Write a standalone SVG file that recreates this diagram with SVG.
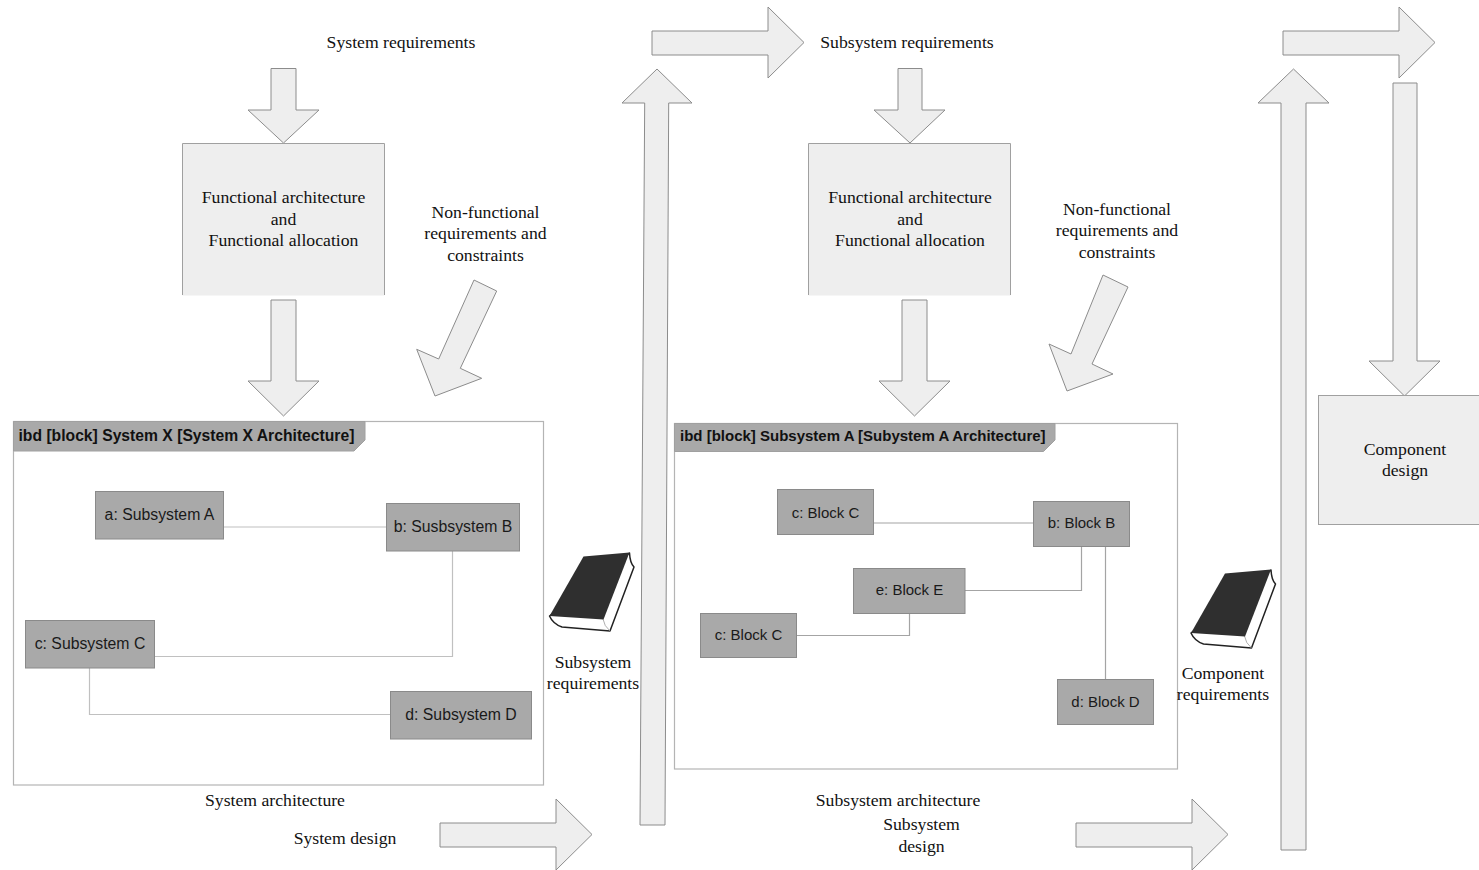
<svg xmlns="http://www.w3.org/2000/svg" width="1479" height="870" viewBox="0 0 1479 870">
<style>
.ar{fill:#eeeeee;stroke:#8c8c8c;stroke-width:1}
.fill{fill:#eeeeee}
.box{fill:#eeeeee;stroke:#a0a0a0;stroke-width:1}
.open{fill:none;stroke:#a0a0a0;stroke-width:1}
.frame{fill:#ffffff;stroke:#b4b4b4;stroke-width:1.2}
.tab{fill:#a9a9a9;stroke:#a0a0a0;stroke-width:1}
.blk{fill:#a9a9a9;stroke:#8a8a8a;stroke-width:1}
.ln{fill:none;stroke:#c0c0c0;stroke-width:1.2}
.ln2{fill:none;stroke:#a4a4a4;stroke-width:1.2}
.s{font-family:"Liberation Serif",serif;font-size:17.7px;fill:#111;text-anchor:middle}
.h{font-family:"Liberation Sans",sans-serif;font-size:15px;fill:#1a1a1a;text-anchor:middle}
.hl{font-family:"Liberation Sans",sans-serif;font-size:15.8px;fill:#1a1a1a;text-anchor:middle}
.t{font-family:"Liberation Sans",sans-serif;font-size:15px;font-weight:bold;fill:#111}
.tl{font-family:"Liberation Sans",sans-serif;font-size:15.7px;font-weight:bold;fill:#111}
.cover{fill:#2f2f2f}
.pages{fill:#ffffff;stroke:#222;stroke-width:1.5;stroke-linejoin:round}
.edge{fill:none;stroke:#999;stroke-width:.8}
</style>
<defs>
<g id="book">
<path class="pages" d="M629.5 553 Q630 563 634 567 L610 631 L562 627 Q553 624 549.500 616 Z"/>
<path class="edge" d="M603 619 Q604 626 610 631"/>
<polygon class="cover" points="583.500,556.500 629.500,552.500 603.500,619.500 549.500,616"/>
</g>
</defs>
<g id="frame-x">
<rect class="frame" x="13.500" y="421.500" width="530" height="363.500"/>
<polygon class="tab" points="13.500,421.500 365,421.500 365,440 354,451 13.500,451"/>
<text class="tl" x="18.500" y="441">ibd [block] System X [System X Architecture]</text>
</g>
<g id="frame-a">
<rect class="frame" x="674.500" y="423.500" width="503" height="345.500"/>
<polygon class="tab" points="674.500,423.500 1055,423.500 1055,440 1043.500,451.500 674.500,451.500"/>
<text class="t" x="680" y="441">ibd [block] Subsystem A [Subystem A Architecture]</text>
</g>
<g id="connectors">
<path class="ln" d="M223 527H386"/>
<path class="ln" d="M452.500 551V656.500H154"/>
<path class="ln" d="M89.500 668V714.500H390"/>
<path class="ln2" d="M873 523H1033"/>
<path class="ln2" d="M965 590.500H1081.500V546"/>
<path class="ln2" d="M796 635.500H909.500V613"/>
<path class="ln2" d="M1105.500 546V679"/>
</g>
<g id="arrows">
<polygon class="ar" points="271,68.500 296,68.500 296,110 319,110 283.500,143 248,110 271,110"/>
<polygon class="ar" points="271,300 296,300 296,381 319,381 283.500,416 248,381 271,381"/>
<polygon class="ar" points="474,280 496.700,291 460.300,368.300 481.700,378.300 435,396 416.700,349.300 438.700,359"/>
<polygon class="ar" points="640,825 665,825 668.700,103 692,103 657,69 622,103 644.700,103"/>
<polygon class="ar" points="652,31 768,31 768,7 804,42.500 768,78 768,55 652,55"/>
<polygon class="ar" points="898,68.500 922,68.500 922,110 945,110 910,143 874,110 898,110"/>
<polygon class="ar" points="902,300 927,300 927,381 950,381 914.500,416 879,381 902,381"/>
<polygon class="ar" points="1103,275 1128,287 1092,364 1113,374 1067,391 1049,344 1071,354"/>
<polygon class="ar" points="440,823 556,823 556,799 592,834.500 556,870 556,847 440,847"/>
<polygon class="ar" points="1076,823 1192,823 1192,799 1228,834.500 1192,870 1192,847 1076,847"/>
<polygon class="ar" points="1281,850 1306,850 1306,103 1329,103 1293.500,69 1258,103 1281,103"/>
<polygon class="ar" points="1283,31 1399,31 1399,7 1435,42.500 1399,78 1399,55 1283,55"/>
<polygon class="ar" points="1393,83 1417,83 1417,361 1440,361 1404.500,396 1369,361 1393,361"/>
</g>
<g id="fa1">
<rect class="fill" x="182.500" y="143.500" width="202" height="152"/>
<path class="open" d="M182.500 295V143.500H384.500V295"/>
<text class="s" x="283.500" y="203">Functional architecture</text>
<text class="s" x="283.500" y="225">and</text>
<text class="s" x="283.500" y="246">Functional allocation</text>
</g>
<g id="fa2">
<rect class="fill" x="808.500" y="143.500" width="202" height="152"/>
<path class="open" d="M808.500 295V143.500H1010.500V295"/>
<text class="s" x="910" y="203">Functional architecture</text>
<text class="s" x="910" y="225">and</text>
<text class="s" x="910" y="246">Functional allocation</text>
</g>
<g id="component-design">
<rect class="box" x="1318.500" y="395.500" width="161" height="129"/>
<text class="s" x="1405" y="455">Component</text>
<text class="s" x="1405" y="476">design</text>
</g>
<g id="a-sub"><rect class="blk" x="95.500" y="491.500" width="128" height="47.500"/><text class="hl" x="159.500" y="520">a: Subsystem A</text></g>
<g id="b-sub"><rect class="blk" x="386.500" y="503.500" width="133" height="47.500"/><text class="hl" x="453" y="532">b: Susbsystem B</text></g>
<g id="c-sub"><rect class="blk" x="25.500" y="620.500" width="129" height="47.500"/><text class="hl" x="90" y="649">c: Subsystem C</text></g>
<g id="d-sub"><rect class="blk" x="390.500" y="691.500" width="141" height="47.500"/><text class="hl" x="461" y="720">d: Subsystem D</text></g>
<g id="c-blk"><rect class="blk" x="777.500" y="489.500" width="96" height="45"/><text class="h" x="825.500" y="518">c: Block C</text></g>
<g id="b-blk"><rect class="blk" x="1033.500" y="501.500" width="96" height="45"/><text class="h" x="1081.500" y="528">b: Block B</text></g>
<g id="e-blk"><rect class="blk" x="853.500" y="568.500" width="111.500" height="45"/><text class="h" x="909.500" y="595">e: Block E</text></g>
<g id="c2-blk"><rect class="blk" x="700.500" y="613.500" width="96" height="44"/><text class="h" x="748.500" y="640">c: Block C</text></g>
<g id="d-blk"><rect class="blk" x="1057.500" y="679.500" width="96" height="45"/><text class="h" x="1105.500" y="707">d: Block D</text></g>
<g id="book1"><use href="#book"/></g>
<g id="book2"><use href="#book" x="641.500" y="17"/></g>
<g id="labels">
<text class="s" x="401" y="48">System requirements</text>
<text class="s" x="907" y="48">Subsystem requirements</text>
<text class="s" x="485.500" y="218">Non-functional</text>
<text class="s" x="485.500" y="239">requirements and</text>
<text class="s" x="485.500" y="261">constraints</text>
<text class="s" x="1117" y="214.500">Non-functional</text>
<text class="s" x="1117" y="236">requirements and</text>
<text class="s" x="1117" y="258">constraints</text>
<text class="s" x="593" y="668">Subsystem</text>
<text class="s" x="593" y="689">requirements</text>
<text class="s" x="1223" y="679">Component</text>
<text class="s" x="1223" y="700">requirements</text>
<text class="s" x="275" y="806">System architecture</text>
<text class="s" x="898" y="806">Subsystem architecture</text>
<text class="s" x="345" y="844">System design</text>
<text class="s" x="921.500" y="830">Subsystem</text>
<text class="s" x="921.500" y="852">design</text>
</g>
</svg>
